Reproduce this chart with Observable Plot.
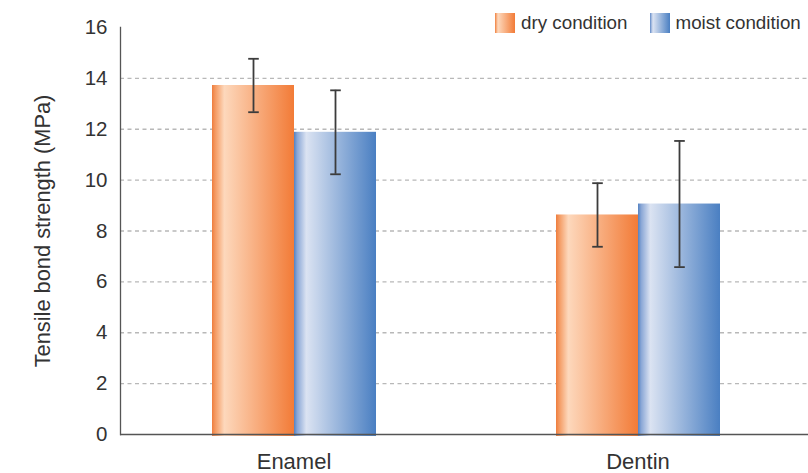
<!DOCTYPE html>
<html>
<head>
<meta charset="utf-8">
<script src="https://cdn.jsdelivr.net/npm/d3@7"></script>
<script src="https://cdn.jsdelivr.net/npm/@observablehq/plot@0.6"></script>
<style>
  html, body { margin: 0; padding: 0; background: #fff; }
  #wrap { position: relative; width: 808px; height: 473px; font-family: "Liberation Sans", Arial, sans-serif; }
  #wrap svg { position: absolute; left: 0; top: 0; }
  #legend { position: absolute; left: 495px; top: 12px; width: 320px; display: flex; align-items: center; font-size: 18.8px; color: #333; white-space: nowrap; }
  .sw { width: 20px; height: 20px; margin-right: 6px; flex: none; }
  .item { display: flex; align-items: center; margin-right: 22px; flex: none; }
</style>
</head>
<body>
<div id="wrap"></div>
<script>
// ---- data ----
const tissues = ["Enamel", "Dentin"];
const conditions = ["dry condition", "moist condition"];
const dryMean = [13.72, 8.63];
const drySD = [1.05, 1.25];
const moistMean = [11.88, 9.06];
const moistSD = [1.65, 2.48];
const yTicks = [0, 2, 4, 6, 8, 10, 12, 14, 16];
const gridTicks = [2, 4, 6, 8, 10, 12, 14];
const yLabel = "Tensile bond strength (MPa)";

const gradients = {
  "dry condition": {id: "gDry", stops: [[0, "#ee7d3e"], [0.04, "#f49a62"], [0.15, "#fdd8bc"], [1, "#f27b37"]]},
  "moist condition": {id: "gMoist", stops: [[0, "#5482c2"], [0.04, "#8aa7d6"], [0.15, "#dbe3f2"], [1, "#4a7fc2"]]}
};

const rows = [];
tissues.forEach((t, i) => {
  rows.push({tissue: t, cond: conditions[0], mean: dryMean[i], lo: dryMean[i] - drySD[i], hi: dryMean[i] + drySD[i]});
  rows.push({tissue: t, cond: conditions[1], mean: moistMean[i], lo: moistMean[i] - moistSD[i], hi: moistMean[i] + moistSD[i]});
});

const cap = {draw(context, size) { const w = Math.sqrt(size / Math.PI); context.moveTo(-w, 0); context.lineTo(w, 0); }};

const common = {
  width: 808, height: 473,
  marginLeft: 120, marginRight: 0, marginTop: 27, marginBottom: 39,
  style: {fontFamily: "'Liberation Sans', Arial, sans-serif", color: "#333", background: "transparent", overflow: "visible"}
};

// base layer: grid, axes
const base = Plot.plot({
  ...common,
  x: {domain: tissues, type: "band", axis: null},
  y: {domain: [0, 16], axis: null},
  marks: [
    Plot.ruleY(gridTicks, {stroke: "#b8b8b8", strokeWidth: 1.3, strokeDasharray: "4,3.5"}),
    Plot.axisY(yTicks, {anchor: "left", tickSize: 0, tickPadding: 13, fontSize: 20.5, label: null}),
    Plot.axisY([], {anchor: "left", tickSize: 0, fontSize: 21.8,
      label: yLabel, labelAnchor: "center", labelArrow: "none", labelOffset: 86})
  ]
});

// bars layer (faceted by tissue)
const bars = Plot.plot({
  ...common,
  marginRight: -3,
  fx: {domain: tissues, paddingInner: 0.52, paddingOuter: 0.263, label: null},
  x: {domain: conditions, padding: 0, axis: null},
  y: {domain: [0, 16], axis: null},
  marks: [
    ...conditions.map(c => Plot.barY(rows.filter(d => d.cond === c), {
      fx: "tissue", x: "cond", y: "mean", fill: `url(#${gradients[c].id})`, insetBottom: -2
    })),
    Plot.ruleX(rows, {fx: "tissue", x: "cond", y1: "lo", y2: "hi", stroke: "#3c3c3c", strokeWidth: 1.8}),
    Plot.dot(rows, {fx: "tissue", x: "cond", y: "hi", symbol: cap, r: 5.3, fill: "none", stroke: "#3c3c3c", strokeWidth: 1.8}),
    Plot.dot(rows, {fx: "tissue", x: "cond", y: "lo", symbol: cap, r: 5.3, fill: "none", stroke: "#3c3c3c", strokeWidth: 1.8}),
    Plot.axisFx({anchor: "bottom", tickSize: 0, tickPadding: 19, fontSize: 22, label: null})
  ]
});

// axis lines on top layer
const lines = Plot.plot({
  ...common,
  x: {domain: tissues, type: "band", axis: null},
  y: {domain: [0, 16], axis: null},
  marks: [
    Plot.ruleY([0], {stroke: "#555", strokeWidth: 1.3}),
    Plot.frame({anchor: "left", stroke: "#555", strokeWidth: 1.3})
  ]
});

// gradient definitions
const defs = d3.select(bars).insert("defs", ":first-child");
for (const c of conditions) {
  const g = defs.append("linearGradient").attr("id", gradients[c].id).attr("x1", "0").attr("x2", "1").attr("y1", "0").attr("y2", "0");
  for (const [o, col] of gradients[c].stops) g.append("stop").attr("offset", o).attr("stop-color", col);
}

const wrap = document.getElementById("wrap");
wrap.appendChild(base);
wrap.appendChild(bars);
wrap.appendChild(lines);

// legend
const legend = document.createElement("div");
legend.id = "legend";
for (const c of conditions) {
  const item = document.createElement("div");
  item.className = "item";
  const sw = document.createElement("div");
  sw.className = "sw";
  sw.style.background = "linear-gradient(to right, " + gradients[c].stops.map(([o, col]) => `${col} ${o * 100}%`).join(", ") + ")";
  const label = document.createElement("span");
  label.textContent = c;
  item.appendChild(sw);
  item.appendChild(label);
  legend.appendChild(item);
}
wrap.appendChild(legend);
</script>
</body>
</html>
